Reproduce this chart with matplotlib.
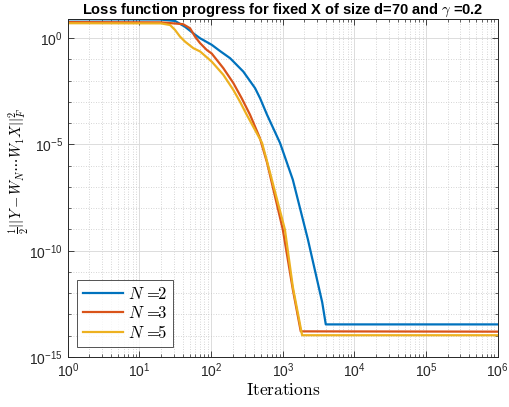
import matplotlib
matplotlib.use("Agg")
import matplotlib.pyplot as plt
import numpy as np
from matplotlib.ticker import NullFormatter, LogFormatterSciNotation, FixedLocator

# ---- data ----
iters_n2 = [1, 19.5, 31.4, 43, 56.5, 70, 102, 133, 184, 281, 410, 482, 603, 916,
            1380, 2240, 3550, 3980, 1e6]
loss_n2 = [7.8, 7.6, 6.5, 3.5, 1.7, 1.0, 0.49, 0.25, 0.115, 0.027, 4.5e-3, 1.5e-3,
           2.5e-4, 1.17e-5, 2.2e-7, 3.4e-10, 3.7e-13, 3.4e-14, 3.4e-14]

iters_n3 = [1, 20, 40.6, 50.8, 59.6, 70, 87, 102, 148, 204, 267, 349, 479, 603,
            1000, 1380, 1780, 1e6]
loss_n3 = [5.75, 5.6, 4.6, 2.95, 1.19, 0.59, 0.28, 0.19, 0.039, 7.8e-3, 1.5e-3,
           2.5e-4, 2.0e-5, 1.4e-6, 1.0e-9, 1.5e-12, 1.6e-14, 1.55e-14]

iters_n5 = [1, 20, 26.7, 31.4, 36.8, 43.3, 56.5, 70, 102, 148, 204, 252, 314, 513,
            603, 1070, 1380, 1860, 1e6]
loss_n5 = [5.1, 5.0, 4.2, 2.45, 1.19, 0.69, 0.34, 0.24, 0.079, 0.019, 3.7e-3, 1.05e-3,
           2.5e-4, 1.2e-5, 1.6e-6, 1.0e-9, 2.0e-12, 1.05e-14, 1.05e-14]

series_labels = [r"$N\,=\!\!2$", r"$N\,=\!\!3$", r"$N\,=\!\!5$"]
colors = ["#0072BD", "#D95319", "#EDB120"]

x_major = [1e0, 1e1, 1e2, 1e3, 1e4, 1e5, 1e6]
y_major = [1e-15, 1e-10, 1e-5, 1e0]

plt.rcParams['font.family'] = ['Liberation Sans', 'DejaVu Sans']
plt.rcParams['mathtext.fontset'] = 'cm'

fig = plt.figure(figsize=(5.10, 4.07), dpi=100)
ax = fig.add_axes([0.133, 0.123, 0.843, 0.830])

for xs, ys, lab, c in zip([iters_n2, iters_n3, iters_n5], [loss_n2, loss_n3, loss_n5],
                          series_labels, colors):
    ax.plot(xs, ys, color=c, lw=1.6, label=lab)

ax.set_xscale('log')
ax.set_yscale('log')
ax.set_xlim(x_major[0], x_major[-1])
ax.set_ylim(1e-15, 10**0.9)

ax.xaxis.set_major_locator(FixedLocator(x_major))
ax.xaxis.set_minor_locator(FixedLocator([m * d for d in x_major[:-1] for m in range(2, 10)]))
ax.xaxis.set_minor_formatter(NullFormatter())
ax.xaxis.set_major_formatter(LogFormatterSciNotation())
ax.yaxis.set_major_locator(FixedLocator(y_major))
ax.yaxis.set_minor_locator(FixedLocator([10.0**k for k in range(-15, 1)]))
ax.yaxis.set_minor_formatter(NullFormatter())
ax.yaxis.set_major_formatter(LogFormatterSciNotation())

ax.grid(True, which='major', color='#dcdcdc', lw=0.7, ls='-')
ax.grid(True, which='minor', color='#c8c8c8', lw=0.6, ls=(0, (1, 2)))
ax.set_axisbelow(True)

ax.tick_params(which='both', direction='in', top=True, right=True, colors='#262626',
               labelsize=10)
ax.tick_params(which='major', length=4, width=0.6)
ax.tick_params(which='minor', length=2, width=0.5)
for s in ax.spines.values():
    s.set_color('#262626')
    s.set_linewidth(0.7)

ax.set_xlabel(r'$\mathrm{Iterations}$', fontsize=12.5, labelpad=1)
ax.set_ylabel(r'$\frac{1}{2}||Y-W_N\cdots W_1X||_F^2$', fontsize=10.5)
ax.yaxis.set_label_coords(-0.085, 0.55)
ax.set_title(r'Loss function progress for fixed X of size d=70 and $\gamma$ =0.2',
             fontsize=10.5, fontweight='bold', pad=3)

leg = ax.legend(loc='lower left', bbox_to_anchor=(0.021, 0.03), fontsize=12,
                frameon=True, fancybox=False, handlelength=2.4, handletextpad=0.3,
                borderpad=0.35, labelspacing=0.18, borderaxespad=0)
leg.get_frame().set_edgecolor('#262626')
leg.get_frame().set_linewidth(0.7)

fig.savefig('out.png', dpi=100)
